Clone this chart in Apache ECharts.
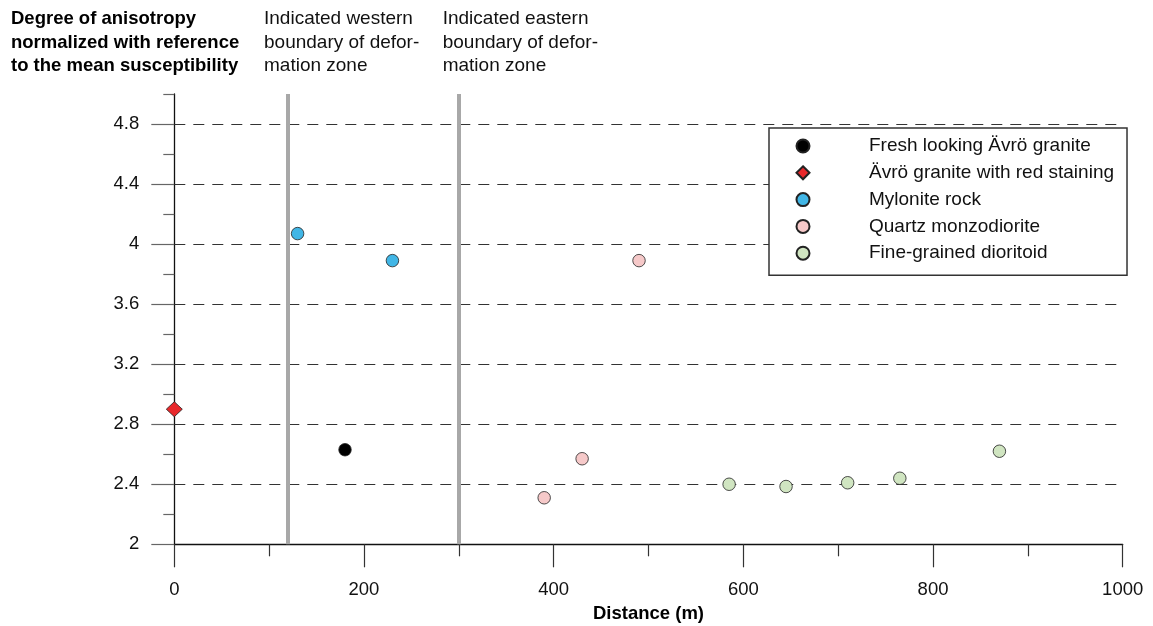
<!DOCTYPE html>
<html>
<head>
<meta charset="utf-8">
<script src="https://cdn.jsdelivr.net/npm/echarts@6/dist/echarts.min.js"></script>
<style>
  html, body { margin: 0; padding: 0; background: #fff; }
  #chart { width: 1153px; height: 626px; }
</style>
</head>
<body>
<div id="chart"></div>
<script>
// sample groups: distance (m) and normalized degree of anisotropy
var freshX = [180],                       freshY = [2.63];
var redX = [0],                           redY = [2.9];
var myloX = [130, 230],                   myloY = [4.07, 3.89];
var quartzX = [390, 430, 490],            quartzY = [2.31, 2.57, 3.89];
var dioritX = [585, 645, 710, 765, 870],  dioritY = [2.40, 2.385, 2.41, 2.44, 2.62];

var groupNames = ['Fresh looking Ävrö granite', 'Ävrö granite with red staining',
    'Mylonite rock', 'Quartz monzodiorite', 'Fine-grained dioritoid'];

// boundaries of deformation zone (m)
var boundaries = [120, 300];

// y ticks
var yMajor = [2, 2.4, 2.8, 3.2, 3.6, 4, 4.4, 4.8];
var yMinor = [2.2, 2.6, 3.0, 3.4, 3.8, 4.2, 4.6, 5.0];

var FONT = '"Liberation Sans", Arial, Helvetica, sans-serif';

function pairs(xs, ys) {
    return xs.map(function (x, i) { return [x, ys[i]]; });
}

var chart = echarts.init(document.getElementById('chart'), null, {renderer: 'canvas'});

function scatter(name, xs, ys, color, symbol, size) {
    return {
        name: name,
        type: 'scatter',
        data: pairs(xs, ys),
        symbol: symbol,
        symbolSize: size,
        clip: false,
        z: 5,
        itemStyle: {color: color, borderColor: '#222', borderWidth: 0.8, opacity: 1},
        emphasis: {disabled: true}
    };
}

var option = {
    animation: false,
    textStyle: {fontFamily: FONT},
    grid: {left: 174.3, right: 30.3, top: 94, bottom: 81.7, outerBoundsMode: 'none', containLabel: false},
    xAxis: {
        type: 'value',
        min: 0, max: 1000, interval: 200,
        name: 'Distance (m)',
        nameLocation: 'middle',
        nameGap: 55,
        nameTextStyle: {fontFamily: FONT, fontSize: 18.5, fontWeight: 'bold', color: '#000'},
        axisLine: {onZero: false, lineStyle: {color: '#111', width: 1.3}},
        axisTick: {length: 23, lineStyle: {color: '#333', width: 1.2}},
        minorTick: {show: true, splitNumber: 2, length: 12, lineStyle: {color: '#333', width: 1.2}},
        axisLabel: {
            margin: 36, fontSize: 18.5, color: '#111', fontFamily: FONT,
            formatter: function (v) { return String(v); }
        },
        splitLine: {show: false}
    },
    yAxis: [{
        type: 'value',
        min: 2, max: 5, interval: 0.4,
        position: 'left',
        offset: 0,
        axisLine: {show: true, onZero: false, lineStyle: {color: '#111', width: 1.3}},
        axisTick: {show: true, length: 23, customValues: yMajor, lineStyle: {color: '#666', width: 1.2}},
        axisLabel: {
            margin: 35, fontSize: 18.5, color: '#111', fontFamily: FONT,
            customValues: yMajor, padding: [4, 0, 0, 0]
        },
        splitLine: {
            show: true, showMinLine: false, showMaxLine: true,
            lineStyle: {color: '#333', width: 1, type: [11, 8]}
        }
    }, {
        type: 'value',
        min: 2, max: 5, interval: 0.4,
        position: 'left',
        offset: 0,
        axisLine: {show: false},
        axisTick: {show: true, length: 11, customValues: yMinor, lineStyle: {color: '#666', width: 1.2}},
        axisLabel: {show: false},
        splitLine: {show: false}
    }],
    legend: {
        orient: 'vertical',
        left: 769, top: 128,
        padding: [8, 13, 12, 26.5],
        itemWidth: 13,
        itemHeight: 13,
        itemGap: 6.8,
        borderColor: '#333',
        borderWidth: 1.5,
        backgroundColor: '#fff',
        selectedMode: false,
        data: groupNames,
        textStyle: {fontFamily: FONT, fontSize: 19, color: '#111', lineHeight: 20, padding: [0, 0, 0, 54.5]}
    },
    graphic: [{
        type: 'text',
        left: 11, top: 7.5,
        style: {
            text: 'Degree of anisotropy\nnormalized with reference\nto the mean susceptibility',
            font: 'bold 18.5px ' + FONT,
            lineHeight: 23.3,
            fill: '#000'
        }
    }, {
        type: 'text',
        left: 264, top: 7.5,
        style: {
            text: 'Indicated western\nboundary of defor-\nmation zone',
            font: '19px ' + FONT,
            lineHeight: 23.3,
            fill: '#111'
        }
    }, {
        type: 'text',
        left: 442.7, top: 7.5,
        style: {
            text: 'Indicated eastern\nboundary of defor-\nmation zone',
            font: '19px ' + FONT,
            lineHeight: 23.3,
            fill: '#111'
        }
    }],
    series: [
        {
            name: 'boundaries',
            type: 'scatter',
            data: [],
            silent: true,
            markLine: {
                symbol: 'none',
                silent: true,
                label: {show: false},
                lineStyle: {color: '#a8a8a8', width: 4, type: 'solid'},
                data: boundaries.map(function (b) { return {xAxis: b}; })
            }
        },
        scatter(groupNames[0], freshX, freshY, '#000000', 'circle', 12.5),
        scatter(groupNames[1], redX, redY, '#e8282b', 'diamond', [16, 15]),
        scatter(groupNames[2], myloX, myloY, '#41b6e6', 'circle', 12.5),
        scatter(groupNames[3], quartzX, quartzY, '#f6c9c9', 'circle', 12.5),
        scatter(groupNames[4], dioritX, dioritY, '#d0e5c1', 'circle', 12.5)
    ]
};

chart.setOption(option);
</script>
</body>
</html>
